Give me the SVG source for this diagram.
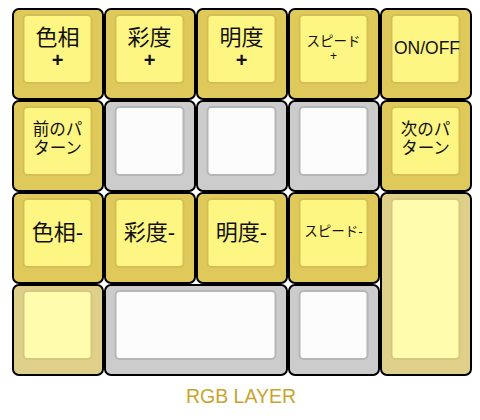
<svg xmlns="http://www.w3.org/2000/svg" width="480" height="420" viewBox="0 0 480 420">
<style>
.o{stroke:#000;stroke-width:2}
.i{stroke-width:2}
.y .o{fill:#e0c95b}
.y .i{fill:#fef682;stroke:#d5bf55}
.p .o{fill:#ded08a}
.p .i{fill:#fffcae;stroke:#d6c67e}
.g .o{fill:#cccccc}
.g .i{fill:#fcfcfc;stroke:#b6b6b6}
text{font-family:"Liberation Sans","Noto Sans CJK JP",sans-serif;fill:#111;text-anchor:middle}
.l{font-size:22px}
.m{font-size:16.5px}
.s{font-size:13.5px}
.sp{font-size:12px}
.pl{font-weight:bold;font-size:20px}
.lat{font-size:17.5px}
.ttl{font-size:19.5px;fill:#c8a52c}
</style>
<rect width="480" height="420" fill="#fff"/>
<g id="k-hue-up" class="y"><rect class="o" x="13" y="9" width="90" height="90" rx="6"/><rect class="i" x="23.5" y="15" width="68" height="68" rx="4"/><text class="l" x="57.5" y="45">色相</text><text class="pl" x="57.5" y="67">+</text></g>
<g id="k-sat-up" class="y"><rect class="o" x="105" y="9" width="90" height="90" rx="6"/><rect class="i" x="115.5" y="15" width="68" height="68" rx="4"/><text class="l" x="149.5" y="45">彩度</text><text class="pl" x="149.5" y="67">+</text></g>
<g id="k-val-up" class="y"><rect class="o" x="197" y="9" width="90" height="90" rx="6"/><rect class="i" x="207.5" y="15" width="68" height="68" rx="4"/><text class="l" x="241.5" y="45">明度</text><text class="pl" x="241.5" y="67">+</text></g>
<g id="k-spd-up" class="y"><rect class="o" x="289" y="9" width="90" height="90" rx="6"/><rect class="i" x="299.5" y="15" width="68" height="68" rx="4"/><text class="s" x="333.5" y="46">スピード</text><text class="sp" x="333.5" y="60">+</text></g>
<g id="k-onoff" class="y"><rect class="o" x="381" y="9" width="90" height="90" rx="6"/><rect class="i" x="391.5" y="15" width="68" height="68" rx="4"/><text class="lat" x="427" y="54">ON/OFF</text></g>

<g id="k-prev" class="y"><rect class="o" x="13" y="101" width="90" height="90" rx="6"/><rect class="i" x="23.5" y="107" width="68" height="68" rx="4"/><text class="m" x="57.5" y="135">前のパ</text><text class="m" x="57.5" y="154">ターン</text></g>
<g id="k-blank1" class="g"><rect class="o" x="105" y="101" width="90" height="90" rx="6"/><rect class="i" x="115.5" y="107" width="68" height="68" rx="4"/></g>
<g id="k-blank2" class="g"><rect class="o" x="197" y="101" width="90" height="90" rx="6"/><rect class="i" x="207.5" y="107" width="68" height="68" rx="4"/></g>
<g id="k-blank3" class="g"><rect class="o" x="289" y="101" width="90" height="90" rx="6"/><rect class="i" x="299.5" y="107" width="68" height="68" rx="4"/></g>
<g id="k-next" class="y"><rect class="o" x="381" y="101" width="90" height="90" rx="6"/><rect class="i" x="391.5" y="107" width="68" height="68" rx="4"/><text class="m" x="425.5" y="135">次のパ</text><text class="m" x="425.5" y="154">ターン</text></g>

<g id="k-hue-dn" class="y"><rect class="o" x="13" y="193" width="90" height="90" rx="6"/><rect class="i" x="23.5" y="199" width="68" height="68" rx="4"/><text class="l" x="57.5" y="240">色相-</text></g>
<g id="k-sat-dn" class="y"><rect class="o" x="105" y="193" width="90" height="90" rx="6"/><rect class="i" x="115.5" y="199" width="68" height="68" rx="4"/><text class="l" x="149.5" y="240">彩度-</text></g>
<g id="k-val-dn" class="y"><rect class="o" x="197" y="193" width="90" height="90" rx="6"/><rect class="i" x="207.5" y="199" width="68" height="68" rx="4"/><text class="l" x="241.5" y="240">明度-</text></g>
<g id="k-spd-dn" class="y"><rect class="o" x="289" y="193" width="90" height="90" rx="6"/><rect class="i" x="299.5" y="199" width="68" height="68" rx="4"/><text class="s" x="333.5" y="236">スピード-</text></g>
<g id="k-tall" class="p"><rect class="o" x="381" y="193" width="90" height="182" rx="6"/><rect class="i" x="391.5" y="199" width="68" height="160" rx="4"/></g>

<g id="k-b1" class="p"><rect class="o" x="13" y="285" width="90" height="90" rx="6"/><rect class="i" x="23.5" y="291" width="68" height="68" rx="4"/></g>
<g id="k-space" class="g"><rect class="o" x="105" y="285" width="182" height="90" rx="6"/><rect class="i" x="115.5" y="291" width="160" height="68" rx="4"/></g>
<g id="k-b3" class="g"><rect class="o" x="289" y="285" width="90" height="90" rx="6"/><rect class="i" x="299.5" y="291" width="68" height="68" rx="4"/></g>

<text class="ttl" x="241" y="403">RGB LAYER</text>
</svg>
